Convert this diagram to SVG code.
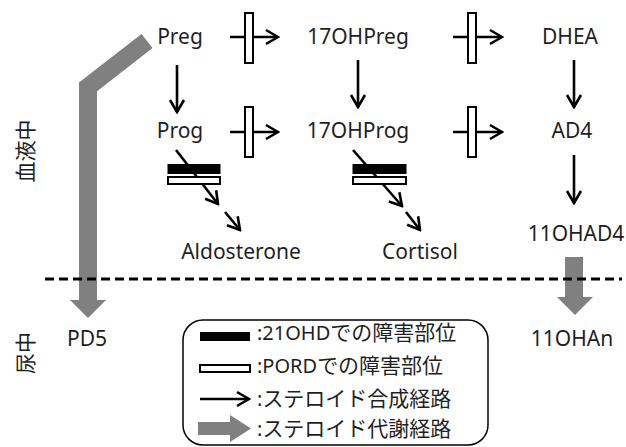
<svg xmlns="http://www.w3.org/2000/svg" width="626" height="447" viewBox="0 0 626 447">
<defs>
<style>
.t{font-family:"Noto Sans","Noto Sans CJK JP",sans-serif;font-size:21px;fill:#1f1f1f;text-anchor:middle}
.jp{font-family:"Noto Sans CJK JP",sans-serif;font-size:21px;fill:#1f1f1f}
.lg{font-family:"Noto Sans","Noto Sans CJK JP",sans-serif;font-size:20px;fill:#1f1f1f}
.ln{stroke:#000;stroke-width:2.6;fill:none}
.ar{stroke:#000;stroke-width:2.6;fill:none;marker-end:url(#ah)}
.bar{fill:#fff;stroke:#000;stroke-width:2}
.blk{fill:#000;stroke:#000;stroke-width:1}
.gray{fill:#808080}
</style>
<marker id="ah" markerUnits="userSpaceOnUse" markerWidth="16" markerHeight="18" viewBox="0 0 16 18" refX="14" refY="9" orient="auto">
<path d="M2,2 L14,9 L2,16" fill="none" stroke="#000" stroke-width="2.6"/>
</marker>
</defs>
<rect width="626" height="447" fill="#fff"/>

<g id="connectors">
<line class="ar" x1="230" y1="37" x2="278" y2="37"/>
<rect class="bar" x="245" y="13" width="8" height="50"/>
<line class="ar" x1="453" y1="37" x2="502" y2="37"/>
<rect class="bar" x="468" y="13" width="8" height="50"/>
<line class="ar" x1="230" y1="132" x2="278" y2="132"/>
<rect class="bar" x="245" y="107" width="8" height="50"/>
<line class="ar" x1="453" y1="132" x2="502" y2="132"/>
<rect class="bar" x="468" y="107" width="8" height="50"/>
<line class="ar" x1="177" y1="65" x2="177" y2="112"/>
<line class="ar" x1="358" y1="60" x2="358" y2="107"/>
<line class="ar" x1="574" y1="60" x2="574" y2="107"/>
<line class="ar" x1="574" y1="155" x2="574" y2="203"/>
<line class="ar" x1="176" y1="150" x2="218" y2="204"/>
<line class="ar" x1="225" y1="212" x2="240" y2="230"/>
<rect class="blk" x="168" y="164.5" width="52" height="9"/>
<rect class="bar" x="168" y="177" width="52" height="7"/>
<line class="ar" x1="353" y1="150" x2="402" y2="206"/>
<line class="ar" x1="406" y1="212" x2="420" y2="230"/>
<rect class="blk" x="353" y="164.5" width="53" height="9"/>
<rect class="bar" x="353" y="177" width="53" height="7"/>
<polyline points="147,41 88,87 88,301" fill="none" stroke="#808080" stroke-width="18" stroke-linejoin="miter"/>
<polygon class="gray" points="70,300 106,300 88,318"/>
<rect class="gray" x="565" y="257" width="18" height="41"/>
<polygon class="gray" points="557,297 593,297 575,315"/>
<line x1="45" y1="279" x2="622" y2="279" stroke="#000" stroke-width="3" stroke-dasharray="9,5"/>
</g>

<g id="side-labels">
<text class="jp" transform="translate(24,151) rotate(-90)" text-anchor="middle" dominant-baseline="central" font-size="22">血液中</text>
<text class="jp" transform="translate(24,353) rotate(-90)" text-anchor="middle" dominant-baseline="central" font-size="21">尿中</text>
</g>

<g id="node-preg"><text class="t" x="180" y="44">Preg</text></g>
<g id="node-17ohpreg"><text class="t" x="358" y="44">17OHPreg</text></g>
<g id="node-dhea"><text class="t" x="570" y="44">DHEA</text></g>
<g id="node-prog"><text class="t" x="180" y="138">Prog</text></g>
<g id="node-17ohprog"><text class="t" x="358" y="138">17OHProg</text></g>
<g id="node-ad4"><text class="t" x="572" y="138">AD4</text></g>
<g id="node-aldosterone"><text class="t" x="241" y="259">Aldosterone</text></g>
<g id="node-cortisol"><text class="t" x="420" y="259">Cortisol</text></g>
<g id="node-11ohad4"><text class="t" x="576" y="241">11OHAD4</text></g>
<g id="node-pd5"><text class="t" x="87" y="346">PD5</text></g>
<g id="node-11ohan"><text class="t" x="572" y="346">11OHAn</text></g>

<g id="legend">
<rect x="183" y="320" width="305" height="125" rx="20" ry="20" fill="none" stroke="#000" stroke-width="1.5"/>
<rect x="200" y="332" width="50" height="9" fill="#000"/>
<rect class="bar" x="200" y="365" width="50" height="7"/>
<line class="ar" x1="200" y1="399" x2="249" y2="399"/>
<rect class="gray" x="198" y="422" width="33" height="13"/>
<polygon class="gray" points="230,415 251,428.5 230,442"/>
<text class="lg" x="257" y="340">:21OHD<tspan class="jp" font-size="23">での障害部位</tspan></text>
<text class="lg" x="257" y="373">:PORD<tspan class="jp" font-size="23">での障害部位</tspan></text>
<text class="lg" x="257" y="406">:<tspan class="jp" font-size="23">ステロイド合成経路</tspan></text>
<text class="lg" x="257" y="436">:<tspan class="jp" font-size="23">ステロイド代謝経路</tspan></text>
</g>
</svg>
